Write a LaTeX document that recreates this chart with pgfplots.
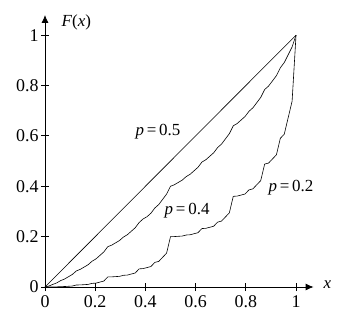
\documentclass[border=0pt]{standalone}
\usepackage{fontspec}
\setmainfont{Liberation Serif}
\newfontfamily\tnr{Liberation Serif}
\usepackage{pgfplots}
\pgfplotsset{compat=1.18}
\usepackage{pgfplotstable}
\usetikzlibrary{arrows.meta}
\pgfplotstableread{
x a b
0 0 0
0.015625 0.000064 0.004096
0.03125 0.00032 0.01024
0.046875 0.000576 0.016384
0.0625 0.0016 0.0256
0.078125 0.001856 0.031744
0.09375 0.00288 0.04096
0.109375 0.003904 0.050176
0.125 0.008 0.064
0.140625 0.008256 0.070144
0.15625 0.00928 0.07936
0.171875 0.010304 0.088576
0.1875 0.0144 0.1024
0.203125 0.015424 0.111616
0.21875 0.01952 0.12544
0.234375 0.023616 0.139264
0.25 0.04 0.16
0.265625 0.040256 0.166144
0.28125 0.04128 0.17536
0.296875 0.042304 0.184576
0.3125 0.0464 0.1984
0.328125 0.047424 0.207616
0.34375 0.05152 0.22144
0.359375 0.055616 0.235264
0.375 0.072 0.256
0.390625 0.073024 0.270144
0.40625 0.07712 0.27904
0.421875 0.081216 0.292864
0.4375 0.0976 0.3136
0.453125 0.101696 0.327424
0.46875 0.11808 0.34816
0.484375 0.134464 0.368896
0.5 0.2 0.4
0.515625 0.200256 0.406144
0.53125 0.20128 0.41536
0.546875 0.202304 0.424576
0.5625 0.2064 0.4384
0.578125 0.207424 0.447616
0.59375 0.21152 0.46144
0.609375 0.215616 0.475264
0.625 0.232 0.496
0.640625 0.233024 0.505216
0.65625 0.23712 0.51904
0.671875 0.241216 0.532864
0.6875 0.2576 0.5536
0.703125 0.261696 0.567424
0.71875 0.27808 0.58816
0.734375 0.294464 0.608896
0.75 0.36 0.64
0.765625 0.361024 0.649216
0.78125 0.36512 0.66304
0.796875 0.369216 0.676864
0.8125 0.3856 0.6976
0.828125 0.389696 0.711424
0.84375 0.40608 0.73216
0.859375 0.422464 0.752896
0.875 0.488 0.784
0.890625 0.492096 0.797824
0.90625 0.50848 0.81856
0.921875 0.524864 0.839296
0.9375 0.5904 0.8704
0.953125 0.606784 0.891136
0.96875 0.67232 0.92224
0.984375 0.737856 0.953344
1 1 1
}\salem
\begin{document}
\begin{tikzpicture}[font=\tnr\fontsize{17}{20}\selectfont]
\begin{axis}[
  anchor=origin, at={(0,0)},
  scale only axis,
  width=268.6bp, height=272bp,
  xmin=0, xmax=1.07, ymin=0, ymax=1.08,
  axis lines=left,
  axis line style={line width=0.8pt, -{Latex[length=8pt,width=7pt]}},
  tick align=center,
  major tick length=8bp,
  tick style={line width=0.8pt, black},
  xtick={0,0.2,0.4,0.6,0.8,1},
  ytick={0,0.2,0.4,0.6,0.8,1},
  xticklabels={0,0.2,0.4,0.6,0.8,1},
  yticklabels={0,0.2,0.4,0.6,0.8,1},
  /pgf/number format/assume math mode=true,
  tick label style={font=\tnr\fontsize{18}{20}\selectfont},
  xticklabel style={yshift=-1bp},
  yticklabel style={xshift=1bp},
  clip=false,
]
\addplot[black, line width=0.6pt] coordinates {(0,0) (1,1)};
\addplot[black, line width=0.6pt] table[x=x, y=b] {\salem};
\addplot[black, line width=0.6pt] table[x=x, y=a] {\salem};
\node at (axis cs:0.45,0.615) {\textit{p}\,=\,0.5};
\node at (axis cs:0.566,0.305) {\textit{p}\,=\,0.4};
\node at (axis cs:0.98,0.393) {\textit{p}\,=\,0.2};
\node at (axis cs:0.125,1.05) {\textit{F}(\textit{x})};
\node at (axis cs:1.125,0.01) {\textit{x}};
\end{axis}
\useasboundingbox (-45bp,-38bp) rectangle (301bp,287bp);
\end{tikzpicture}
\end{document}
